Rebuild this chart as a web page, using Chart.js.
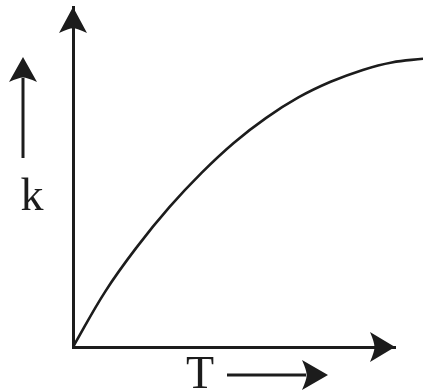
<!DOCTYPE html>
<html>
<head>
<meta charset="utf-8">
<script src="https://cdn.jsdelivr.net/npm/chart.js@4"></script>
<style>
  html, body { margin: 0; padding: 0; background: #fff; }
  #wrap { width: 423px; height: 392px; }
</style>
</head>
<body>
<div id="wrap"><canvas id="c" width="423" height="392"></canvas></div>
<script>
// Rate constant k against temperature T (qualitative curve)
const temperature = [0, 1, 2, 3, 4, 5, 6, 7, 8, 9, 9.9, 10.87];
const rateConstant = [0, 1.63, 2.96, 4.12, 5.13, 6.01, 6.74, 7.34, 7.80, 8.15, 8.37, 8.48];
const xTitle = 'T';
const yTitle = 'k';

const ink = '#1c1c1c';

function arrowHead(ctx, tipX, tipY, dirX, dirY, len, half) {
  // dir is a unit vector pointing towards the tip
  const bx = tipX - dirX * len, by = tipY - dirY * len;
  const px = -dirY, py = dirX;
  const nx = tipX - dirX * len * 0.82, ny = tipY - dirY * len * 0.82;
  ctx.beginPath();
  ctx.moveTo(tipX, tipY);
  ctx.lineTo(bx + px * half, by + py * half);
  ctx.quadraticCurveTo(nx + px * half * 0.3, ny + py * half * 0.3, nx, ny);
  ctx.quadraticCurveTo(nx - px * half * 0.3, ny - py * half * 0.3, bx - px * half, by - py * half);
  ctx.closePath();
  ctx.fill();
}

const axisDecor = {
  id: 'axisDecor',
  afterDraw(chart) {
    const ctx = chart.ctx;
    const a = chart.chartArea;
    ctx.save();
    ctx.fillStyle = ink;
    ctx.strokeStyle = ink;
    // arrowheads at the ends of both axes
    arrowHead(ctx, a.left, a.top, 0, -1, 26, 14);
    arrowHead(ctx, a.right, a.bottom, 1, 0, 25, 15);

    // y title with upward arrow
    ctx.lineWidth = 3;
    ctx.beginPath();
    ctx.moveTo(23, 158);
    ctx.lineTo(23, 78);
    ctx.stroke();
    arrowHead(ctx, 23, 57, 0, -1, 25, 14);
    ctx.font = '46px "Liberation Serif", "DejaVu Serif", serif';
    ctx.textAlign = 'center';
    ctx.textBaseline = 'alphabetic';
    ctx.fillText(yTitle, 32, 210);

    // x title with rightward arrow
    ctx.fillText(xTitle, 200, 388);
    ctx.beginPath();
    ctx.moveTo(227, 375);
    ctx.lineTo(306, 375);
    ctx.stroke();
    arrowHead(ctx, 328, 375, 1, 0, 26, 15);
    ctx.restore();
  }
};

new Chart(document.getElementById('c'), {
  type: 'line',
  data: {
    datasets: [{
      data: temperature.map((t, i) => ({ x: t, y: rateConstant[i] })),
      borderColor: ink,
      borderWidth: 2.6,
      pointRadius: 0,
      fill: false,
      tension: 0.4,
      clip: false
    }]
  },
  options: {
    responsive: false,
    animation: false,
    events: [],
    layout: { padding: { left: 73, top: 7, right: 28, bottom: 45 } },
    plugins: { legend: { display: false }, tooltip: { enabled: false } },
    scales: {
      x: {
        type: 'linear', min: 0, max: 10,
        ticks: { display: false },
        grid: { display: false, drawTicks: false },
        border: { display: true, color: ink, width: 3 },
        afterFit(s) { s.height = 0; }
      },
      y: {
        type: 'linear', min: 0, max: 10,
        ticks: { display: false },
        grid: { display: false, drawTicks: false },
        border: { display: true, color: ink, width: 3 },
        afterFit(s) { s.width = 0; }
      }
    }
  },
  plugins: [axisDecor]
});
</script>
</body>
</html>
